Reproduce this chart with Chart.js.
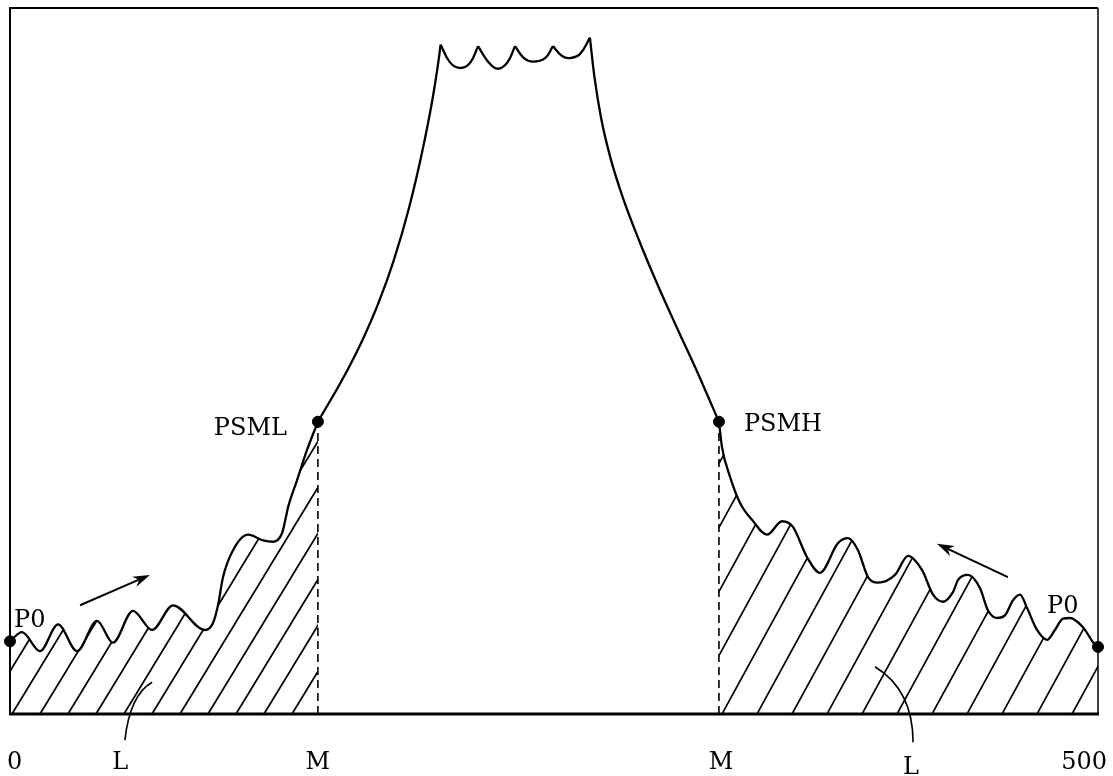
<!DOCTYPE html>
<html><head><meta charset="utf-8">
<script src="https://cdn.jsdelivr.net/npm/chart.js@4/dist/chart.umd.min.js"></script>
<style>html,body{margin:0;padding:0;background:#fff;overflow:hidden}</style>
</head><body>
<canvas id="c" width="1113" height="776"></canvas>
<script>
// ---- data (x: 0..500, y: 0..100) ----
const xRange = [0, 500];
const yRange = [0, 100];
const leftCurve = [[0,10.3],[5.5,11.6],[13.8,8.9],[22.1,12.7],[30.8,8.9],[40.0,13.2],[47.3,10.1],[56.5,14.6],[65.3,11.9],[74.9,15.4],[89.6,11.9],[93.3,12.9],[95.6,15.4],[97.9,19.4],[102.5,23.2],[109.4,25.4],[116.3,24.6],[120.9,24.4],[125.0,25.6],[126.8,27.9],[127.8,29.3],[131.9,33.1],[136.5,37.4],[141.5,41.4]];
const riseCurve = [[141.5,41.4],[152.6,47.3],[161.4,52.6],[169.3,58.2],[176.4,64.3],[183.3,71.6],[189.4,79.6],[194.0,86.8],[196.6,91.8],[197.9,94.8]];
const crest1 = [[197.9,94.8],[202.2,92.3],[206.8,91.5],[211.4,92.2],[215.1,94.6]];
const crest2 = [[215.1,94.6],[219.7,92.4],[223.8,91.4],[228.4,92.2],[232.1,94.6]];
const crest3 = [[232.1,94.6],[236.2,92.9],[240.4,92.4],[245.9,92.9],[249.5,94.6]];
const crest4 = [[249.5,94.6],[253.7,93.2],[257.4,92.9],[262.0,93.5],[266.5,95.8]];
const fallCurve = [[266.5,95.8],[268.6,90.2],[271.6,84.5],[276.0,78.7],[281.8,73.0],[289.2,67.0],[297.6,60.8],[306.8,54.5],[316.2,48.2],[325.8,41.4]];
const rightCurve = [[325.8,41.4],[327.2,37.8],[330.9,33.6],[335.5,29.9],[341.0,27.5],[347.9,25.4],[354.8,27.3],[359.8,26.5],[366.3,22.2],[372.2,20.0],[380.5,24.2],[385.1,24.9],[389.7,23.2],[394.3,19.4],[398.9,18.6],[406.7,19.7],[412.7,22.4],[419.1,20.4],[424.2,16.9],[428.8,15.9],[433.4,17.3],[435.7,19.0],[440.3,19.7],[445.8,17.8],[449.4,14.7],[453.6,13.6],[457.3,14.0],[460.9,16.1],[464.2,16.9],[467.4,15.0],[472.0,11.9],[476.6,10.5],[480.2,11.9],[483.9,13.5],[487.1,13.6],[493.1,12.3],[498.6,9.8],[500,9.5]];
const markerPoints = [[0,10.3],[141.5,41.4],[325.8,41.4],[500,9.5]];
const markerLabels = ['P0','PSML','PSMH','P0'];
const tickValues = [0,141.5,325.8,500];
const tickLabels = ['0','M','M','500'];
const regionLabels = ['L','L'];

// ---- helpers ----
const xy = arr => arr.map(([x,y]) => ({x, y}));
const canvas = document.getElementById('c');
const ctx = canvas.getContext('2d');
function hatch(w, h, lw, tx, ty) {
  const c = document.createElement('canvas');
  c.width = w; c.height = h;
  const g = c.getContext('2d');
  g.strokeStyle = '#000'; g.lineWidth = lw;
  g.beginPath();
  for (const s of [-w, 0, w]) { g.moveTo(s - w, 2*h); g.lineTo(s + 2*w, -h); }
  g.stroke();
  const p = ctx.createPattern(c, 'repeat');
  p.setTransform(new DOMMatrix([1,0,0,1,tx,ty]));
  return p;
}
const leftHatch = hatch(28, 46, 1.7, 12, 714);
const rightHatch = hatch(35, 64, 1.7, 722, 714);

const waveStyle = {borderColor:'#000', borderWidth:2.3, pointRadius:0, cubicInterpolationMode:'monotone', fill:false};
const smoothStyle = {borderColor:'#000', borderWidth:2.3, pointRadius:0, tension:0.4, fill:false};
const dashStyle = {borderColor:'#000', borderWidth:1.6, borderDash:[8,5], pointRadius:0, tension:0, fill:false};

const datasets = [
  {label:'markers', data: xy(markerPoints), showLine:false, pointRadius:5.5, pointBackgroundColor:'#000', pointBorderColor:'#000', clip:false},
  Object.assign({label:'left', data: xy(leftCurve)}, waveStyle, {fill:'origin', backgroundColor:leftHatch}),
  Object.assign({label:'rise', data: xy(riseCurve)}, waveStyle),
  Object.assign({label:'c1', data: xy(crest1)}, smoothStyle),
  Object.assign({label:'c2', data: xy(crest2)}, smoothStyle),
  Object.assign({label:'c3', data: xy(crest3)}, smoothStyle),
  Object.assign({label:'c4', data: xy(crest4)}, smoothStyle),
  Object.assign({label:'fall', data: xy(fallCurve)}, waveStyle),
  Object.assign({label:'right', data: xy(rightCurve)}, waveStyle, {fill:'origin', backgroundColor:rightHatch}),
  Object.assign({label:'dashL', data: xy([[tickValues[1],0],markerPoints[1]])}, dashStyle),
  Object.assign({label:'dashR', data: xy([[tickValues[2],0],markerPoints[2]])}, dashStyle),
];

const FONT = '"DejaVu Serif", "Liberation Serif", serif';
function arrow(c, x1, y1, x2, y2) {
  const a = Math.atan2(y2 - y1, x2 - x1), L = 17, W = 5.5;
  c.beginPath(); c.moveTo(x1, y1); c.lineTo(x2 - Math.cos(a)*L*0.7, y2 - Math.sin(a)*L*0.7); c.stroke();
  c.beginPath();
  c.moveTo(x2, y2);
  c.lineTo(x2 - Math.cos(a)*L - Math.sin(a)*W, y2 - Math.sin(a)*L + Math.cos(a)*W);
  c.lineTo(x2 - Math.cos(a)*L*0.7, y2 - Math.sin(a)*L*0.7);
  c.lineTo(x2 - Math.cos(a)*L + Math.sin(a)*W, y2 - Math.sin(a)*L - Math.cos(a)*W);
  c.closePath(); c.fill();
}

const deco = {
  id: 'deco',
  afterDatasetsDraw(chart) {
    const c = chart.ctx, a = chart.chartArea;
    const X = v => chart.scales.x.getPixelForValue(v);
    const Y = v => chart.scales.y.getPixelForValue(v);
    c.save();
    c.strokeStyle = '#000'; c.fillStyle = '#000'; c.lineCap = 'butt';
    // frame
    c.lineWidth = 2;
    c.beginPath(); c.moveTo(a.left, a.bottom); c.lineTo(a.left, a.top); c.lineTo(a.right, a.top); c.stroke();
    c.lineWidth = 1.5;
    c.beginPath(); c.moveTo(a.right, a.top); c.lineTo(a.right, a.bottom); c.stroke();
    c.lineWidth = 3;
    c.beginPath(); c.moveTo(a.left - 1, a.bottom); c.lineTo(a.right + 1, a.bottom); c.stroke();
    // direction arrows
    c.lineWidth = 2;
    arrow(c, X(32.2), Y(15.4), X(64.3), Y(19.7));
    arrow(c, X(458.6), Y(19.4), X(426.0), Y(24.1));
    // leader lines for L
    c.lineWidth = 1.6;
    c.beginPath(); c.moveTo(X(52.8), Y(-3.7)); c.quadraticCurveTo(X(55.1), Y(2.7), X(65.3), Y(4.5)); c.stroke();
    c.beginPath(); c.moveTo(X(415.0), Y(-4.0)); c.quadraticCurveTo(X(415.0), Y(3.4), X(397.5), Y(6.7)); c.stroke();
    // labels
    c.font = '24px ' + FONT; c.textBaseline = 'alphabetic';
    const [p0, pl, ph, p1] = markerPoints;
    c.textAlign = 'left';  c.fillText(markerLabels[0], X(p0[0]) + 4, Y(p0[1]) - 14);
    c.textAlign = 'right'; c.fillText(markerLabels[1], X(pl[0]) - 31, Y(pl[1]) + 13);
    c.textAlign = 'left';  c.fillText(markerLabels[2], X(ph[0]) + 25, Y(ph[1]) + 9);
    c.textAlign = 'left';  c.fillText(markerLabels[3], X(p1[0]) - 51, Y(p1[1]) - 34);
    // axis tick labels
    const base = a.bottom + 55;
    c.textAlign = 'left';   c.fillText(tickLabels[0], X(tickValues[0]) - 3, base);
    c.textAlign = 'center'; c.fillText(tickLabels[1], X(tickValues[1]), base);
    c.textAlign = 'center'; c.fillText(tickLabels[2], X(tickValues[2]) + 2, base);
    c.textAlign = 'right';  c.fillText(tickLabels[3], X(tickValues[3]) + 9, base);
    c.textAlign = 'center'; c.fillText(regionLabels[0], X(50.6), base);
    c.textAlign = 'center'; c.fillText(regionLabels[1], X(414.0), base + 5);
    c.restore();
  }
};

new Chart(ctx, {
  type: 'line',
  data: { datasets },
  options: {
    responsive: false, animation: false, devicePixelRatio: 1,
    layout: { padding: { left: 10, top: 8, right: 15, bottom: 62 } },
    scales: {
      x: { type: 'linear', min: xRange[0], max: xRange[1], display: false },
      y: { type: 'linear', min: yRange[0], max: yRange[1], display: false }
    },
    plugins: { legend: { display: false }, tooltip: { enabled: false } },
    elements: { line: { capBezierPoints: true } }
  },
  plugins: [deco]
});
</script>
</body></html>
